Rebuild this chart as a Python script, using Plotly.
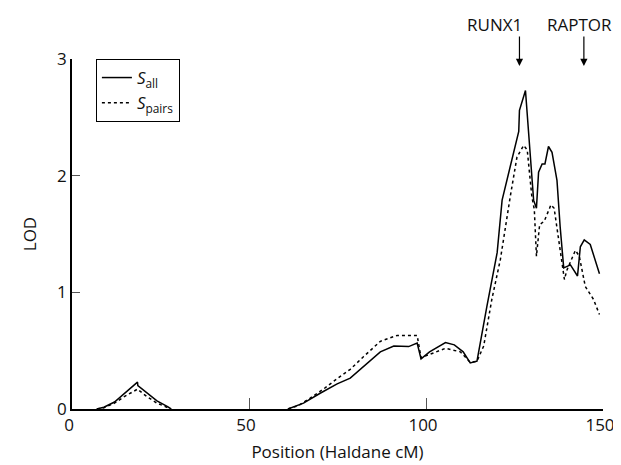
import plotly.graph_objects as go

# S_all (solid)
sall_x = [7.0, 9.0, 12.0, 15.0, 18.5, 18.6, 21.0, 24.0, 27.0, 28.0, None,
          61.0, 65.4, 70.1, 74.9, 78.6, 82.4, 87.1, 90.9, 95.1, 97.5, 98.6,
          101.0, 105.5, 108.0, 110.5, 112.5, 114.4, 117.2, 120.1, 121.5, 123.8,
          126.2, 126.4, 128.1, 130.4, 131.2, 131.8, 132.8, 133.6, 134.6, 135.6,
          136.5, 137.0, 137.9, 138.9, 140.8, 142.8, 143.6, 144.7, 146.4, 149.0]
sall_y = [0.0, 0.015, 0.06, 0.14, 0.23, 0.20, 0.14, 0.07, 0.02, 0.0, None,
          0.0, 0.05, 0.135, 0.215, 0.265, 0.365, 0.49, 0.54, 0.535, 0.565, 0.43,
          0.49, 0.57, 0.55, 0.49, 0.395, 0.41, 0.88, 1.34, 1.79, 2.08,
          2.38, 2.56, 2.73, 1.79, 1.72, 2.03, 2.1, 2.1, 2.25, 2.2,
          2.05, 1.96, 1.56, 1.21, 1.235, 1.14, 1.39, 1.45, 1.41, 1.16]

# S_pairs (dotted)
spairs_x = [7.0, 9.0, 12.0, 15.0, 18.5, 21.0, 24.0, 28.0, None,
            61.0, 64.0, 67.3, 71.0, 74.9, 78.6, 82.4, 87.1, 91.8, 97.5, 98.6,
            101.0, 105.5, 109.7, 112.5, 114.4, 116.3, 118.6, 121.0, 123.8, 125.7,
            127.6, 128.6, 129.9, 130.6, 131.2, 132.1, 133.4, 135.3, 136.2, 139.1,
            139.8, 142.2, 143.3, 145.0, 147.3, 149.0]
spairs_y = [0.0, 0.01, 0.05, 0.11, 0.17, 0.11, 0.05, 0.0, None,
            0.0, 0.03, 0.094, 0.17, 0.26, 0.34, 0.45, 0.58, 0.63, 0.63, 0.44,
            0.47, 0.52, 0.49, 0.40, 0.41, 0.54, 0.94, 1.28, 1.82, 2.16,
            2.26, 2.22, 1.82, 1.71, 1.31, 1.58, 1.61, 1.75, 1.72, 1.11,
            1.19, 1.36, 1.31, 1.05, 0.94, 0.81]

genes = ["RUNX1", "RAPTOR"]
gene_pos = [126.4, 144.6]

x_ticks = [0, 50, 100, 150]
y_ticks = [0, 1, 2, 3]

FONT = "Open Sans"

fig = go.Figure()
fig.add_trace(go.Scatter(x=sall_x, y=sall_y, mode="lines", connectgaps=False,
                         line=dict(color="black", width=1.5),
                         name="<i>S</i><sub>all</sub>"))
fig.add_trace(go.Scatter(x=spairs_x, y=spairs_y, mode="lines", connectgaps=False,
                         line=dict(color="black", width=1.5, dash="dot"),
                         name="<i>S</i><sub>pairs</sub>"))

for g, p in zip(genes, gene_pos):
    fig.add_annotation(x=p, y=2.94, xref="x", yref="y", text="",
                       showarrow=True, ax=0, ay=-31, arrowhead=2,
                       arrowsize=1.2, arrowwidth=1.2, arrowcolor="black")

label_offsets = [-25, -4]
for g, p, off in zip(genes, gene_pos, label_offsets):
    fig.add_annotation(x=p, y=1, xref="x", yref="paper", yanchor="middle",
                       yshift=35, xshift=off, text=g, showarrow=False,
                       font=dict(family=FONT, size=17, color="#111"))

# page body has an 8px default margin; size the figure to fit the window
fig.update_layout(
    width=613, height=457,
    margin=dict(l=64, r=18, t=51, b=56),
    paper_bgcolor="white", plot_bgcolor="white",
    font=dict(family=FONT, size=16, color="#111"),
    showlegend=True,
    legend=dict(x=0.045, y=1.0, xanchor="left", yanchor="top",
                bordercolor="black", borderwidth=1, bgcolor="white",
                font=dict(family=FONT, size=17), tracegroupgap=0),
    xaxis=dict(range=[0, 150], tickvals=x_ticks, ticks="inside", ticklen=11,
               tickcolor="#555", showline=True, linecolor="black", linewidth=1.5,
               showgrid=False, zeroline=False, automargin=False,
               ticklabelshift=-3,
               tickfont=dict(family=FONT, size=17),
               title=dict(text="Position (Haldane cM)", standoff=11,
                          font=dict(family=FONT, size=17))),
    yaxis=dict(range=[0, 3], tickvals=y_ticks, ticks="inside", ticklen=8,
               tickcolor="#555", showline=True, linecolor="black", linewidth=1.5,
               showgrid=False, zeroline=False, automargin=False,
               tickfont=dict(family=FONT, size=17),
               title=dict(text="LOD", standoff=16, font=dict(family=FONT, size=17))),
)

fig.write_html("out.html")
